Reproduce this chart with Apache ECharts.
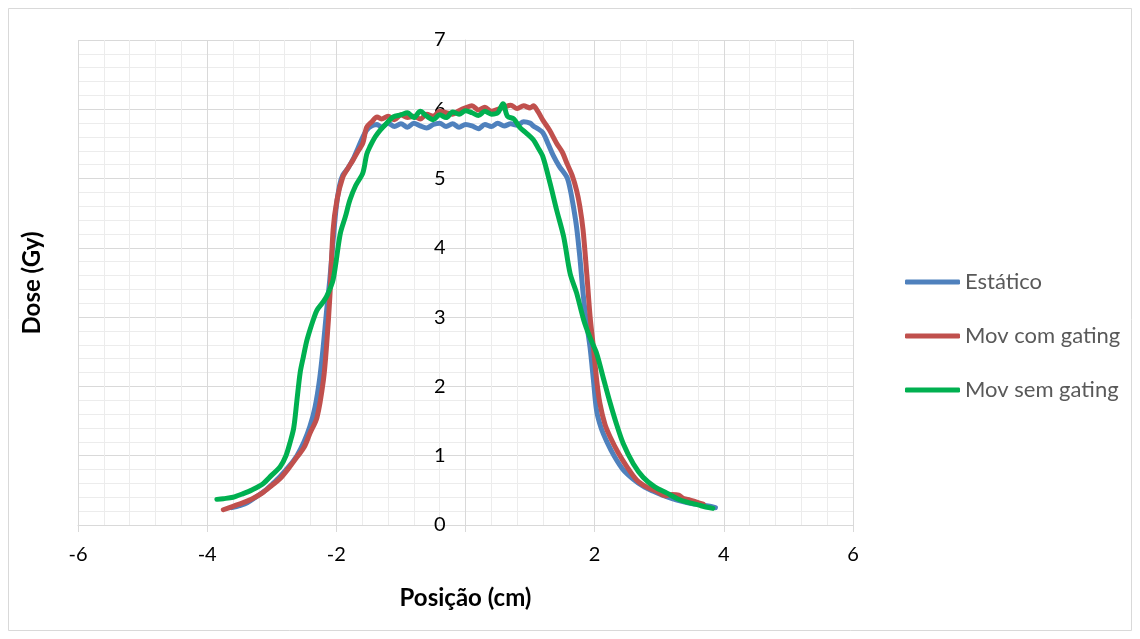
<!DOCTYPE html>
<html>
<head>
<meta charset="utf-8">
<script src="https://cdn.jsdelivr.net/npm/echarts@6/dist/echarts.min.js"></script>
<style>html,body{margin:0;padding:0;background:#fff}#c{width:1140px;height:639px}</style>
</head>
<body>
<div id="c"></div>
<script>
const seriesNames = ['Estático', 'Mov com gating', 'Mov sem gating'];
const xTicks = [-6, -4, -2, 0, 2, 4, 6];
const yTicks = [0, 1, 2, 3, 4, 5, 6, 7];

const xBlue = [-3.62,-3.5,-3.38,-3.25,-3.1,-2.98,-2.87,-2.72,-2.61,-2.5,-2.41,-2.33,-2.26,-2.2,-2.15,-2.1,-2.05,-2.0,-1.95,-1.9,-1.82,-1.74,-1.66,-1.59,-1.53,-1.45,-1.37,-1.3,-1.2,-1.1,-1.0,-0.9,-0.8,-0.7,-0.6,-0.5,-0.4,-0.3,-0.2,-0.1,0,0.1,0.2,0.3,0.4,0.5,0.6,0.7,0.8,0.9,1.0,1.05,1.12,1.2,1.28,1.36,1.45,1.57,1.62,1.67,1.72,1.77,1.82,1.87,1.93,1.98,2.03,2.1,2.19,2.3,2.44,2.6,2.75,2.9,3.05,3.2,3.35,3.5,3.65,3.78,3.87];
const yBlue = [0.25,0.28,0.32,0.4,0.5,0.6,0.7,0.86,1.0,1.2,1.42,1.7,2.1,2.6,3.1,3.55,4.1,4.6,4.9,5.05,5.15,5.28,5.45,5.6,5.7,5.76,5.78,5.74,5.8,5.75,5.79,5.74,5.8,5.76,5.73,5.78,5.8,5.75,5.79,5.74,5.78,5.76,5.72,5.78,5.75,5.8,5.76,5.79,5.77,5.82,5.8,5.76,5.72,5.66,5.5,5.33,5.18,5.02,4.85,4.6,4.3,3.87,3.35,2.95,2.55,2.1,1.65,1.4,1.2,1.0,0.8,0.66,0.56,0.49,0.43,0.38,0.34,0.31,0.29,0.27,0.25];

const xRed = [-3.75,-3.6,-3.45,-3.3,-3.15,-3.0,-2.87,-2.72,-2.61,-2.5,-2.41,-2.3,-2.2,-2.15,-2.1,-2.05,-1.99,-1.9,-1.82,-1.74,-1.66,-1.59,-1.53,-1.45,-1.37,-1.3,-1.2,-1.1,-1.0,-0.9,-0.8,-0.7,-0.6,-0.5,-0.4,-0.3,-0.2,-0.1,0,0.1,0.2,0.3,0.4,0.5,0.6,0.7,0.8,0.9,1.0,1.05,1.12,1.2,1.3,1.41,1.5,1.57,1.65,1.72,1.77,1.82,1.88,1.93,1.98,2.03,2.08,2.16,2.24,2.36,2.5,2.65,2.8,2.95,3.1,3.2,3.3,3.38,3.48,3.58,3.68];
const yRed = [0.22,0.27,0.32,0.38,0.46,0.57,0.67,0.84,0.98,1.12,1.32,1.55,2.09,2.6,3.3,4.26,4.69,5.02,5.15,5.27,5.4,5.51,5.74,5.82,5.89,5.86,5.9,5.85,5.92,5.88,5.9,5.86,5.93,5.9,5.97,5.95,5.93,5.98,6.02,6.05,5.99,6.03,5.97,6.0,6.03,6.06,6.01,6.05,6.02,6.05,5.97,5.84,5.7,5.51,5.38,5.22,5.05,4.83,4.6,4.26,3.6,3.0,2.57,2.1,1.76,1.45,1.27,1.05,0.84,0.65,0.55,0.49,0.42,0.44,0.43,0.38,0.36,0.33,0.3];

const xGreen = [-3.85,-3.75,-3.6,-3.45,-3.3,-3.13,-3.0,-2.87,-2.78,-2.72,-2.66,-2.61,-2.56,-2.51,-2.46,-2.41,-2.35,-2.3,-2.22,-2.15,-2.05,-1.94,-1.86,-1.79,-1.7,-1.59,-1.53,-1.48,-1.4,-1.32,-1.22,-1.12,-1.0,-0.9,-0.8,-0.7,-0.6,-0.5,-0.4,-0.3,-0.2,-0.1,0,0.1,0.2,0.3,0.4,0.5,0.58,0.65,0.75,0.84,0.95,1.05,1.12,1.2,1.31,1.41,1.52,1.62,1.72,1.83,1.93,2.03,2.14,2.24,2.34,2.44,2.6,2.75,2.93,3.12,3.28,3.43,3.6,3.72,3.83];
const yGreen = [0.37,0.38,0.4,0.45,0.51,0.6,0.72,0.84,1.0,1.18,1.4,1.8,2.2,2.43,2.65,2.81,2.98,3.1,3.2,3.3,3.54,4.2,4.45,4.69,4.9,5.08,5.35,5.46,5.6,5.7,5.8,5.89,5.92,5.95,5.88,5.97,5.9,5.85,5.92,5.88,5.96,5.93,5.98,5.95,5.91,5.97,5.93,5.95,6.08,5.9,5.86,5.74,5.65,5.56,5.45,5.31,4.93,4.55,4.16,3.63,3.35,2.96,2.7,2.48,2.1,1.76,1.45,1.18,0.88,0.69,0.55,0.46,0.38,0.33,0.29,0.26,0.24];

const colors = ['#4F81BD', '#C0504D', '#00B050'];
const FONT = 'Lato, "Open Sans", sans-serif';
const zip = (xs, ys) => xs.map((x, i) => [x, ys[i]]);
const allData = [zip(xBlue, yBlue), zip(xRed, yRed), zip(xGreen, yGreen)];

const GRID_LEFT = 78, GRID_RIGHT = 287, W = 1140;
const plotW = W - GRID_LEFT - GRID_RIGHT;
// y axis crosses the x axis at x = 0 (middle of the -6..6 range)
const yAxisOffset = -plotW * (0 - xTicks[0]) / (xTicks[xTicks.length - 1] - xTicks[0]);

const chart = echarts.init(document.getElementById('c'), null, { renderer: 'canvas' });
chart.setOption({
  animation: false,
  backgroundColor: '#ffffff',
  grid: { left: GRID_LEFT, right: GRID_RIGHT, top: 40, bottom: 114, containLabel: false },
  graphic: [
    { type: 'rect', shape: { x: 8.5, y: 8.5, width: 1123, height: 622 }, style: { fill: 'none', stroke: '#d9d9d9', lineWidth: 1 }, silent: true },
    { type: 'text', x: 32, y: 283, rotation: Math.PI / 2, style: { text: 'Dose (Gy)', font: 'bold 24px ' + FONT, fill: '#000', align: 'center', verticalAlign: 'middle' } }
  ],
  legend: {
    orient: 'vertical', left: 900, top: 266, itemGap: 32,
    itemWidth: 55, itemHeight: 5, icon: 'roundRect',
    textStyle: { fontFamily: FONT, fontSize: 22, color: '#595959' },
    data: seriesNames
  },
  xAxis: {
    type: 'value', min: xTicks[0], max: xTicks[xTicks.length - 1], interval: 2,
    name: 'Posição (cm)', nameLocation: 'middle', nameGap: 61,
    nameTextStyle: { fontFamily: FONT, fontSize: 24, fontWeight: 'bold', color: '#000' },
    axisLine: { show: true, onZero: true, lineStyle: { color: '#d9d9d9', width: 1 } },
    axisTick: { show: true, inside: false, length: 7, lineStyle: { color: '#d9d9d9' } },
    axisLabel: { margin: 20, fontFamily: FONT, fontSize: 20, color: '#000', formatter: v => v === 0 ? '' : String(v) },
    splitLine: { show: true, lineStyle: { color: '#d9d9d9', width: 1 } },
    minorTick: { show: false, splitNumber: 5 },
    minorSplitLine: { show: true, lineStyle: { color: '#ececec', width: 1 } }
  },
  yAxis: {
    type: 'value', min: yTicks[0], max: yTicks[yTicks.length - 1], interval: 1,
    offset: yAxisOffset,
    axisLine: { show: true, onZero: false, lineStyle: { color: '#d9d9d9', width: 1 } },
    axisTick: { show: true, inside: false, length: 6, lineStyle: { color: '#d9d9d9' } },
    axisLabel: { margin: 20, fontFamily: FONT, fontSize: 20, color: '#000' },
    splitLine: { show: true, lineStyle: { color: '#d9d9d9', width: 1 } },
    minorTick: { show: false, splitNumber: 5 },
    minorSplitLine: { show: true, lineStyle: { color: '#ececec', width: 1 } }
  },
  series: seriesNames.map((n, i) => ({
    name: n, type: 'line', data: allData[i], showSymbol: false, smooth: 0.3,
    lineStyle: { color: colors[i], width: 5, cap: 'round', join: 'round' },
    itemStyle: { color: colors[i] }
  }))
});
</script>
</body>
</html>
